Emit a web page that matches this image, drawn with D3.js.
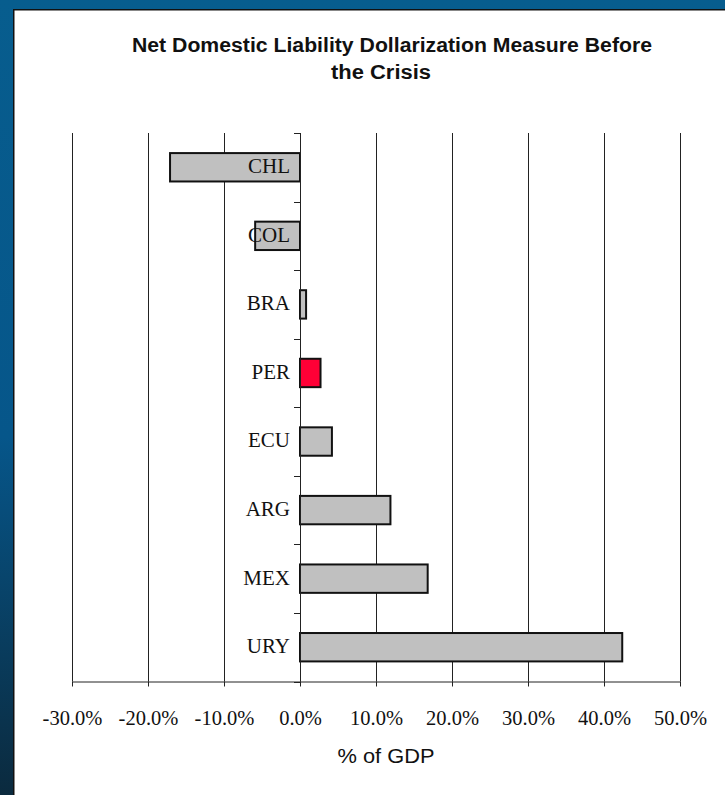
<!DOCTYPE html>
<html>
<head>
<meta charset="utf-8">
<script src="https://cdn.jsdelivr.net/npm/d3@7"></script>
<style>
  body { margin: 0; background: #fff; }
  svg { display: block; }
</style>
</head>
<body>
<script>
// Net domestic liability dollarization, % of GDP, before the crisis

var categories = ["CHL", "COL", "BRA", "PER", "ECU", "ARG", "MEX", "URY"];
var values = [-17.1, -5.9, 0.8, 2.7, 4.2, 11.9, 16.8, 42.4];
var highlighted = ["PER"];
var xTicks = [-30, -20, -10, 0, 10, 20, 30, 40, 50];
var titleLines = ["Net Domestic Liability Dollarization Measure Before", "the Crisis"];
var xTitle = "% of GDP";

var width = 725;
var height = 795;

var svg = d3.select("body")
            .append("svg")
            .attr("width", width)
            .attr("height", height);

// blue slide background
var grad = svg.append("defs").append("linearGradient")
              .attr("id", "bg")
              .attr("x1", 0).attr("y1", 0)
              .attr("x2", 0).attr("y2", 1);
grad.append("stop").attr("offset", "0%").attr("stop-color", "#075d8e");
grad.append("stop").attr("offset", "55%").attr("stop-color", "#06568a");
grad.append("stop").attr("offset", "100%").attr("stop-color", "#0b2a3e");

svg.append("rect")
   .attr("width", width)
   .attr("height", height)
   .attr("fill", "url(#bg)");

// white panel with dark edge on left / top
svg.append("rect")
   .attr("x", 13)
   .attr("y", 9)
   .attr("width", width)
   .attr("height", height)
   .attr("fill", "#111");
svg.append("rect")
   .attr("x", 14.5)
   .attr("y", 10.5)
   .attr("width", width)
   .attr("height", height)
   .attr("fill", "#fff");

var x = d3.scaleLinear()
          .domain([-30, 50])
          .range([72, 680]);

var y = d3.scaleBand()
          .domain(categories)
          .range([133, 681.5])
          .paddingInner(0.586)
          .paddingOuter(0.293);

var step = y.step();

// gridlines
svg.append("g")
   .selectAll("line")
   .data(xTicks)
   .enter()
     .append("line")
     .attr("x1", function(d) { return Math.round(x(d)) + 0.5; })
     .attr("x2", function(d) { return Math.round(x(d)) + 0.5; })
     .attr("y1", y.range()[0])
     .attr("y2", y.range()[1])
     .attr("stroke", "#222")
     .attr("stroke-width", 1);

// bars
svg.append("g")
   .selectAll("rect")
   .data(categories)
   .enter()
     .append("rect")
     .attr("x", function(d, i) { return x(Math.min(0, values[i])); })
     .attr("width", function(d, i) { return Math.abs(x(values[i]) - x(0)); })
     .attr("y", function(d) { return y(d); })
     .attr("height", y.bandwidth())
     .attr("fill", function(d) { return highlighted.indexOf(d) >= 0 ? "#ff0036" : "#c0c0c0"; })
     .attr("stroke", "#111")
     .attr("stroke-width", 2);

// x axis
var xAxis = d3.axisBottom(x)
              .tickValues(xTicks)
              .tickSize(5)
              .tickSizeOuter(0)
              .tickFormat(function(d) { return d.toFixed(1) + "%"; });

var gx = svg.append("g")
            .attr("transform", "translate(0," + y.range()[1] + ")")
            .call(xAxis);
gx.select(".domain").attr("stroke", "#222");
gx.selectAll(".tick line").attr("stroke", "#222");
gx.selectAll(".tick text")
  .attr("y", 43)
  .attr("dy", 0)
  .attr("fill", "#111")
  .style("font-family", "'Liberation Serif', 'Times New Roman', serif")
  .style("font-size", "20.5px");

// y axis at zero, ticks on band boundaries
var boundaries = d3.range(categories.length + 1).map(function(i) { return y.range()[0] + i * step; });
var gy = svg.append("g");
gy.append("line")
  .attr("x1", x(0) + 0.5).attr("x2", x(0) + 0.5)
  .attr("y1", y.range()[0]).attr("y2", y.range()[1])
  .attr("stroke", "#222");
gy.selectAll("line.tk")
  .data(boundaries)
  .enter()
    .append("line")
    .attr("class", "tk")
    .attr("x1", x(0) - 6).attr("x2", x(0))
    .attr("y1", function(d) { return Math.round(d) + 0.5; })
    .attr("y2", function(d) { return Math.round(d) + 0.5; })
    .attr("stroke", "#222");

// category labels
svg.append("g")
   .selectAll("text")
   .data(categories)
   .enter()
     .append("text")
     .attr("x", x(0) - 10)
     .attr("y", function(d) { return y(d) + y.bandwidth() / 2; })
     .attr("dy", "0.28em")
     .attr("text-anchor", "end")
     .attr("fill", "#111")
     .style("font-family", "'Liberation Serif', 'Times New Roman', serif")
     .style("font-size", "21px")
     .text(function(d) { return d; });

// title
var titleX = [392, 381];
var titleLen = [520, 100];
svg.append("g")
   .selectAll("text")
   .data(titleLines)
   .enter()
     .append("text")
     .attr("x", function(d, i) { return titleX[i]; })
     .attr("y", function(d, i) { return 52 + i * 27; })
     .attr("text-anchor", "middle")
     .attr("textLength", function(d, i) { return titleLen[i]; })
     .attr("lengthAdjust", "spacingAndGlyphs")
     .attr("fill", "#111")
     .style("font-family", "'Liberation Sans', Arial, sans-serif")
     .style("font-weight", "bold")
     .style("font-size", "20px")
     .text(function(d) { return d; });

// x axis title
svg.append("text")
   .attr("x", 386)
   .attr("y", 763)
   .attr("text-anchor", "middle")
   .attr("textLength", 97)
   .attr("lengthAdjust", "spacingAndGlyphs")
   .attr("fill", "#111")
   .style("font-family", "'Liberation Sans', Arial, sans-serif")
   .style("font-size", "20px")
   .text(xTitle);
</script>
</body>
</html>
